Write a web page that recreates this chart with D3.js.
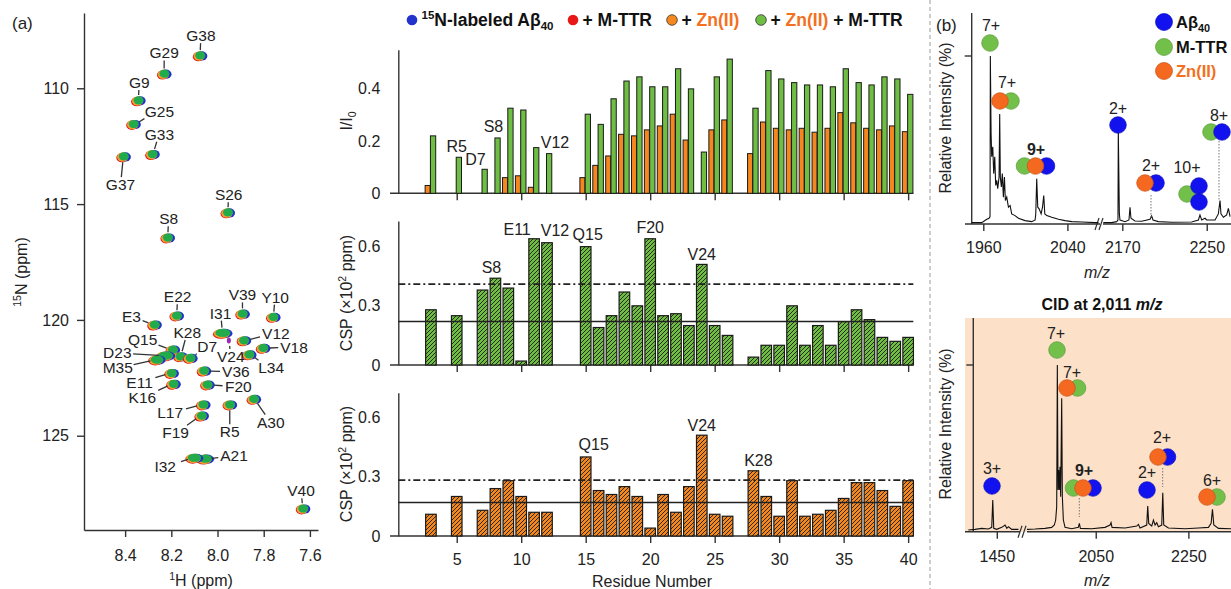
<!DOCTYPE html>
<html>
<head>
<meta charset="utf-8">
<title>Abeta40 NMR and MS</title>
<script src="https://cdn.jsdelivr.net/npm/d3@7/dist/d3.min.js"></script>
<style>
  body { margin: 0; background: #fff; }
  svg { display: block; font-family: "Liberation Sans", Arial, sans-serif; }
  .ax path, .ax line { stroke: #333; stroke-width: 1.4; }
  .ax text { fill: #222; font-size: 16px; font-family: "Liberation Sans", Arial, sans-serif; }
</style>
</head>
<body>
<svg id="fig" width="1231" height="589"></svg>
<script>
// ---------- (a) HSQC peak list (1H, 15N in ppm) ----------
var peakNames = ['G38','G29','G9','G25','G33','G37','S26','S8','E22','V39','Y10','E3','I31','V12','V18','Q15','K28','D7',
                 'D23','M35','V24','L34','V36','E11','F20','K16','A30','L17','R5','F19','A21','I32','V40'];
var peakH = [8.076,8.231,8.343,8.364,8.282,8.407,7.956,8.216,8.177,7.892,7.759,8.273,7.978,7.886,7.803,8.194,8.161,8.118,
             8.226,8.263,7.951,7.863,8.059,8.199,8.044,8.191,7.843,8.062,7.947,8.069,8.054,8.101,7.630];
var peakN = [108.59,109.38,110.53,111.55,112.85,112.95,115.37,116.45,119.82,119.74,119.88,120.21,120.57,120.89,121.22,121.29,121.58,121.65,
             121.55,121.72,120.89,121.50,122.20,122.30,122.80,122.77,123.42,123.66,123.66,124.14,126.00,125.96,128.15];

// ---------- (a) per residue values, residues 1..40 (null = no data) ----------
var residues = d3.range(1, 41);
var ratioZn = [null,null,0.03,null,null,null,null,null,0.06,0.067, 0.023,null,null,null,0.06,0.107,0.143,0.226,0.22,0.243,
               0.258,0.303,0.204,null,0.243,0.281,null,0.152,0.273,0.249, 0.243,0.249,0.234,0.249,0.309,0.27,0.249,0.243,0.258,0.236];
var ratioZnTtr = [null,null,0.22,null,0.138,null,0.092,0.212,0.326,0.319, 0.175,0.152,null,null,0.303,0.264,0.362,0.43,0.446,0.408,
                  0.408,0.477,0.40,0.158,0.446,0.514,null,0.326,0.47,0.438, 0.424,0.415,0.415,0.408,0.477,0.424,0.415,0.446,0.438,0.379];
var cspTtr = [null,null,0.28,null,0.25,null,0.38,0.44,0.39,0.02, 0.64,0.62,null,null,0.60,0.19,0.25,0.37,0.30,0.64,
              0.25,0.26,0.20,0.51,0.20,0.15,null,0.04,0.10,0.10, 0.30,0.10,0.20,0.10,0.22,0.28,0.23,0.14,0.12,0.14];
var cspZn = [null,null,0.11,null,0.20,null,0.13,0.24,0.28,0.20, 0.12,0.12,null,null,0.40,0.23,0.21,0.25,0.20,0.04,
             0.21,0.12,0.25,0.51,0.11,0.10,null,0.33,0.20,0.10, 0.28,0.10,0.11,0.13,0.19,0.27,0.27,0.23,0.15,0.28];
var cspTtrRef = [0.22, 0.41];   // average, average + SD
var cspZnRef = [0.17, 0.283];

// ---------- (b) mass spectra, [m/z, relative intensity %] ----------
var msTopLow = [[1949,0.8],[1958.5,0.8],[1963.3,2.8],[1965.5,3.4],[1966.4,4.4],[1966.7,100],[1967.4,54],[1968,40],[1969,46],
  [1969.9,30],[1970.9,40],[1971.8,23],[1972.8,26],[1973.7,21],[1975,28],[1975.6,65.5],[1976.2,28],[1977.2,22],[1978.1,30],
  [1979.1,16],[1980.1,28],[1981,14],[1982.3,16],[1983.9,10],[1985.5,11],[1987,6],[1990.2,5],[1993.4,3.4],[1999.7,2],
  [2006.1,1.4],[2009.3,2.4],[2009.9,6],[2010.8,27],[2011.8,10],[2013.1,9],[2015,6],[2016.3,10],[2017.5,17],[2018.5,6],
  [2020.4,5],[2025.1,4],[2031.5,2.8],[2037.8,2],[2044.2,1.4],[2053.7,1.2],[2066.4,0.8],[2069.5,0.8]];
var msTopHigh = [[2152,0.8],[2159.9,0.8],[2164.7,1.4],[2165.9,2.4],[2166.2,56],[2167.2,6],[2167.8,2.4],[2172.6,1.4],
  [2176.3,2.4],[2177.3,10],[2178.2,3.4],[2182,1.8],[2188.4,1.6],[2196.3,2.8],[2197.8,4.8],[2199.1,2.4],[2204.1,1.4],
  [2216.8,1],[2235.7,1.2],[2242.1,2.4],[2243.6,5.4],[2245.2,2.4],[2248.4,3.4],[2249.9,2.4],[2257.9,2.4],[2261,6],
  [2262.6,14],[2263.5,6],[2265.8,4],[2268.9,5.4],[2270.5,9.3],[2272.1,4.4]];
var msCidLow = [[1388.7,1],[1403.1,1.4],[1417.5,2],[1431.9,1.6],[1439.1,2.6],[1441.3,19],[1443.4,2],[1449.9,1.4],
  [1460.7,2.6],[1467.9,4],[1471.5,2],[1475.1,3],[1482.3,1.4],[1496.7,1.4]];
var msCidHigh = [[1901.6,1.4],[1918.9,1.6],[1940.5,2],[1954.9,2.6],[1960.6,4],[1963.5,7],[1965.7,15],[1967.1,100],
  [1968.6,25],[1970,37],[1971.4,25],[1972.9,39],[1974.3,21],[1976.5,80],[1977.9,21],[1980.1,7],[1983.7,2.6],[1998.1,1.8],
  [2012.5,2.6],[2014.6,5],[2016.8,2],[2041.3,1.8],[2070.1,2.6],[2080.9,4],[2083,5.4],[2085.2,2.6],[2113.3,2.2],
  [2138.5,3.4],[2142.1,4.4],[2145.7,2.2],[2160.1,4],[2162.2,15.4],[2164.4,5],[2170.9,3.4],[2174.5,7],[2178.1,4],
  [2181.7,5.4],[2185.3,3],[2192.5,4],[2194.7,23.4],[2196.8,4],[2206.9,2.2],[2242.9,1.8],[2271.7,2.2],[2293.3,2.6],
  [2299.1,5],[2302,13.4],[2304.9,4],[2315,2],[2342.4,1.8]];

// ---------- colours ----------
var C = {
  nmrBlue: '#2233cc', nmrRed: '#e3161b', nmrOrange: '#f0a030', nmrGreen: '#22ab4b',
  barGreen: '#6fbe44', barOrange: '#f6871f', zn: '#f37021',
  sBlue: '#1212ee', sGreen: '#72c04a', sOrange: '#f4681f', peach: '#fce0c8'
};

var svg = d3.select('#fig');
var defs = svg.append('defs');

function rich(t, parts, fs) {
  var shift = 0;
  parts.forEach(function(p) {
    var s = t.append('tspan').text(p[0]);
    var target = p[1] === 'sup' ? -0.4 * fs : p[1] === 'sub' ? 0.25 * fs : 0;
    if (target !== shift) { s.attr('dy', target - shift); shift = target; }
    if (p[1]) s.attr('font-size', 0.66 * fs);
    if (p[2]) s.attr('fill', p[2]);
  });
  return t;
}

// ================= (a) HSQC overlay =================
var nx = d3.scaleLinear().domain([8.578, 7.565]).range([84, 318]);
var ny = d3.scaleLinear().domain([106.75, 129.07]).range([13, 530]);

svg.append('g').attr('class', 'ax').attr('transform', 'translate(84,0)')
  .call(d3.axisLeft(ny).tickValues([110, 115, 120, 125]).tickSize(7).tickPadding(8).tickSizeOuter(0));
svg.append('g').attr('class', 'ax').attr('transform', 'translate(0,530)')
  .call(d3.axisBottom(nx).tickValues([8.4, 8.2, 8.0, 7.8, 7.6]).tickFormat(d3.format('.1f'))
    .tickSize(7).tickPadding(13).tickSizeOuter(0));

svg.append('text').attr('x', 12).attr('y', 29).attr('font-size', 17).attr('fill', '#222').text('(a)');
rich(svg.append('text').attr('x', 201).attr('y', 586).attr('text-anchor', 'middle').attr('font-size', 16).attr('fill', '#222'),
  [['1', 'sup'], ['H (ppm)']], 16);
rich(svg.append('text').attr('transform', 'translate(27,272) rotate(-90)').attr('text-anchor', 'middle')
  .attr('font-size', 16).attr('fill', '#222'), [['15', 'sup'], ['N (ppm)']], 16);

// label offsets (px) from each peak and peak sizes
var peakLabelOff = {
  G38:[1,-20], G29:[0,-21], G9:[1,-18], G25:[26,-13], G33:[7,-20], G37:[-3,28], S26:[1,-18], S8:[1,-19],
  E22:[1,-19], V39:[0,-19], Y10:[2,-20], E3:[-23,-8], I31:[-2,-20], V12:[32,-7], V18:[31,-1], Q15:[-30,-10],
  K28:[7,-24], D7:[17,-12], D23:[-48,-3], M35:[-39,8], V24:[2,16], L34:[22,13], V36:[32,1], E11:[-32,9],
  F20:[31,2], K16:[-31,13], A30:[17,23], L17:[-33,8], R5:[0,27], F19:[-26,17], A21:[29,-3], I32:[-29,8], V40:[-2,-18]
};
var peakSize = { I31: 1.45, D23: 1.45, M35: 1.25, A21: 1.3, I32: 1.3, V24: 0.35 };

var gPeaks = svg.append('g');
peakNames.forEach(function(name, i) {
  var px = nx(peakH[i]), py = ny(peakN[i]);
  var k = peakSize[name] || 1;
  var rx = 5.6 * k, ry = 4.6;
  var g = gPeaks.append('g').attr('transform', 'translate(' + px + ',' + py + ')');
  if (name === 'V24') {
    g.append('ellipse').attr('rx', 2).attr('ry', 3).attr('fill', '#9a2ab0');
    return;
  }
  g.append('ellipse').attr('cx', 1.8).attr('cy', 0.3).attr('rx', rx).attr('ry', ry).attr('fill', C.nmrBlue);
  g.append('ellipse').attr('cx', -1.6).attr('cy', 1.1).attr('rx', rx).attr('ry', ry).attr('fill', C.nmrRed);
  g.append('ellipse').attr('cx', -0.8).attr('cy', 0.5).attr('rx', rx).attr('ry', ry).attr('fill', C.nmrOrange);
  g.append('ellipse').attr('cx', 0.3).attr('cy', -0.2).attr('rx', rx - 0.6).attr('ry', ry - 0.5).attr('fill', C.nmrGreen);
});

var gLab = svg.append('g');
peakNames.forEach(function(name, i) {
  var px = nx(peakH[i]), py = ny(peakN[i]);
  var o = peakLabelOff[name];
  var lx = px + o[0], ly = py + o[1];
  gLab.append('text').attr('x', lx).attr('y', ly).attr('dy', '0.36em').attr('text-anchor', 'middle')
    .attr('font-size', 15.5).attr('fill', '#222').text(name);
  var hw = name.length * 4.6 + 2, hh = 7.5;
  var dx = px - lx, dy = py - ly, d = Math.hypot(dx, dy);
  var s = Math.min(dx ? hw / Math.abs(dx) : 1e9, dy ? hh / Math.abs(dy) : 1e9);
  var x1 = lx + dx * s, y1 = ly + dy * s;
  var x2 = px - dx / d * 6.5, y2 = py - dy / d * 5.5;
  if ((x2 - x1) * dx + (y2 - y1) * dy > 1) {
    gLab.append('line').attr('x1', x1).attr('y1', y1).attr('x2', x2).attr('y2', y2)
      .attr('stroke', '#333').attr('stroke-width', 1.3);
  }
});

// ================= (a) bar charts =================
var bx = d3.scaleLinear().domain([0.47, 40.4]).range([398.3, 913.3]);
var yTop = d3.scaleLinear().domain([0, 0.55]).range([193.3, 49.7]);
var yMid = d3.scaleLinear().domain([0, 0.73]).range([365, 221]);
var yBot = d3.scaleLinear().domain([0, 0.725]).range([536, 392.7]);

function hatch(id, color) {
  var p = defs.append('pattern').attr('id', id).attr('patternUnits', 'userSpaceOnUse')
    .attr('width', 4).attr('height', 4);
  p.append('rect').attr('width', 4).attr('height', 4).attr('fill', color);
  p.append('path').attr('d', 'M-1,1 L1,-1 M0,4 L4,0 M3,5 L5,3').attr('stroke', '#2b2b1b').attr('stroke-width', 1);
}
hatch('hG', C.barGreen);
hatch('hO', C.barOrange);

function frame(y, ticks, showLabels) {
  var g = svg.append('g');
  g.append('g').attr('class', 'ax').attr('transform', 'translate(398.3,0)')
    .call(d3.axisLeft(y).tickValues(ticks).tickSize(0).tickPadding(18).tickSizeOuter(0)
      .tickFormat(function(d) { return d === 0 ? '0' : d3.format('.1f')(d); }));
  var xa = g.append('g').attr('class', 'ax').attr('transform', 'translate(0,' + y(0) + ')')
    .call(d3.axisBottom(bx).tickValues([5, 10, 15, 20, 25, 30, 35, 40]).tickSize(7).tickPadding(11).tickSizeOuter(0));
  xa.select('.domain').remove();
  if (!showLabels) xa.selectAll('text').remove();
  g.append('line').attr('x1', 390).attr('x2', 913.3).attr('y1', y(0)).attr('y2', y(0))
    .attr('stroke', '#333').attr('stroke-width', 1.4);
  return g;
}

// top: I/I0
frame(yTop, [0, 0.2, 0.4], false);
var gTop = svg.append('g');
gTop.selectAll('rect.o').data(residues.filter(function(r) { return ratioZn[r - 1] != null; }))
  .enter().append('rect')
  .attr('x', function(r) { return bx(r - 0.45); })
  .attr('width', function(r) { return bx(r - 0.06) - bx(r - 0.45); })
  .attr('y', function(r) { return yTop(ratioZn[r - 1]); })
  .attr('height', function(r) { return yTop(0) - yTop(ratioZn[r - 1]); })
  .attr('fill', C.barOrange).attr('stroke', '#1a1a1a').attr('stroke-width', 1);
gTop.selectAll('rect.g').data(residues.filter(function(r) { return ratioZnTtr[r - 1] != null; }))
  .enter().append('rect')
  .attr('x', function(r) { return bx(r - 0.04); })
  .attr('width', function(r) { return bx(r + 0.37) - bx(r - 0.04); })
  .attr('y', function(r) { return yTop(ratioZnTtr[r - 1]); })
  .attr('height', function(r) { return yTop(0) - yTop(ratioZnTtr[r - 1]); })
  .attr('fill', C.barGreen).attr('stroke', '#1a1a1a').attr('stroke-width', 1);

rich(svg.append('text').attr('transform', 'translate(352,121) rotate(-90)').attr('text-anchor', 'middle')
  .attr('font-size', 16).attr('fill', '#222'), [['I/I'], ['0', 'sub']], 16);

function cspPanel(y, vals, pat, ref, showLabels, cy) {
  frame(y, [0, 0.3, 0.6], showLabels);
  var g = svg.append('g');
  g.selectAll('rect').data(residues.filter(function(r) { return vals[r - 1] != null; }))
    .enter().append('rect')
    .attr('x', function(r) { return bx(r - 0.41); })
    .attr('width', function(r) { return bx(r + 0.41) - bx(r - 0.41); })
    .attr('y', function(r) { return y(vals[r - 1]); })
    .attr('height', function(r) { return y(0) - y(vals[r - 1]); })
    .attr('fill', 'url(#' + pat + ')').attr('stroke', '#1a1a1a').attr('stroke-width', 1.2);
  g.append('line').attr('x1', 398.3).attr('x2', 913.3).attr('y1', y(ref[0])).attr('y2', y(ref[0]))
    .attr('stroke', '#222').attr('stroke-width', 1.5);
  g.append('line').attr('x1', 398.3).attr('x2', 913.3).attr('y1', y(ref[1])).attr('y2', y(ref[1]))
    .attr('stroke', '#222').attr('stroke-width', 1.8).attr('stroke-dasharray', '7,3,2,3');
  rich(svg.append('text').attr('transform', 'translate(352,' + cy + ') rotate(-90)').attr('text-anchor', 'middle')
    .attr('font-size', 16).attr('fill', '#222'), [['CSP (\u00d710'], ['2', 'sup'], [' ppm)']], 16);
}
cspPanel(yMid, cspTtr, 'hG', cspTtrRef, false, 293);
cspPanel(yBot, cspZn, 'hO', cspZnRef, true, 464);

svg.append('text').attr('x', 652).attr('y', 587).attr('text-anchor', 'middle').attr('font-size', 16)
  .attr('fill', '#222').text('Residue Number');

// residue labels: [name, residue, dx, gap above bar]
var topNotes = [['R5', 5, 0, 11], ['D7', 7, -7, 10], ['S8', 8, -2, 12], ['V12', 12, 8, 11]];
var midNotes = [['S8', 8, -4, 11], ['E11', 11, -17, 10], ['V12', 12, 8, 12], ['Q15', 15, 2, 12], ['F20', 20, 0, 12], ['V24', 24, 0, 10]];
var botNotes = [['Q15', 15, 8, 13], ['V24', 24, 0, 10], ['K28', 28, 5, 11]];
function notes(list, y, vals) {
  list.forEach(function(n) {
    svg.append('text').attr('x', bx(n[1]) + n[2]).attr('y', y(vals[n[1] - 1]) - n[3]).attr('dy', '0.36em')
      .attr('text-anchor', 'middle').attr('font-size', 16).attr('fill', '#222').text(n[0]);
  });
}
notes(topNotes, yTop, ratioZnTtr);
notes(midNotes, yMid, cspTtr);
notes(botNotes, yBot, cspZn);

// legend for (a)
var legA = [
  { x: 412, fill: C.nmrBlue, edge: false, parts: [['15', 'sup'], ['N-labeled A\u03b2'], ['40', 'sub']] },
  { x: 573, fill: '#e81818', edge: false, parts: [['+ M-TTR']] },
  { x: 672, fill: C.barOrange, edge: true, parts: [['+ '], ['Zn(II)', null, C.zn]] },
  { x: 761, fill: C.barGreen, edge: true, parts: [['+ '], ['Zn(II)', null, C.zn], [' + M-TTR']] }
];
legA.forEach(function(l) {
  svg.append('circle').attr('cx', l.x).attr('cy', 20).attr('r', 5.3)
    .attr('fill', l.fill).attr('stroke', l.edge ? '#333' : 'none').attr('stroke-width', 0.8);
  rich(svg.append('text').attr('x', l.x + 9.5).attr('y', 26).attr('font-size', 17.5).attr('font-weight', 'bold')
    .attr('fill', '#111'), l.parts, 17.5);
});

// separator
svg.append('line').attr('x1', 930).attr('x2', 930).attr('y1', 0).attr('y2', 589)
  .attr('stroke', '#9a9a9a').attr('stroke-width', 1).attr('stroke-dasharray', '4,3');

// ================= (b) mass spectra =================
var topLowX = d3.scaleLinear().domain([1942.6, 2071]).range([965, 1100]);
var topHighX = d3.scaleLinear().domain([2151.7, 2273]).range([1103, 1231]);
var topY = d3.scaleLinear().domain([0, 100]).range([224, 56]);
var cidLowX = d3.scaleLinear().domain([1381.5, 1500]).range([965, 1020]);
var cidHighX = d3.scaleLinear().domain([1901.6, 2342]).range([1027, 1231]);
var cidY = d3.scaleLinear().domain([0, 100]).range([531.7, 365]);

svg.append('rect').attr('x', 965).attr('y', 318).attr('width', 266).attr('height', 213.7).attr('fill', C.peach);

function specAxes(y0, yAxisX, yTopPx, tickY, segs, brk, pad) {
  svg.append('line').attr('x1', yAxisX).attr('x2', yAxisX).attr('y1', yTopPx).attr('y2', y0)
    .attr('stroke', '#333').attr('stroke-width', 1.4);
  svg.append('line').attr('x1', yAxisX - 7).attr('x2', yAxisX).attr('y1', tickY).attr('y2', tickY)
    .attr('stroke', '#333').attr('stroke-width', 1.4);
  segs.forEach(function(s) {
    var r = s.scale.range();
    svg.append('line').attr('x1', r[0]).attr('x2', r[1]).attr('y1', y0).attr('y2', y0)
      .attr('stroke', '#333').attr('stroke-width', 1.4);
    var a = svg.append('g').attr('class', 'ax').attr('transform', 'translate(0,' + y0 + ')')
      .call(d3.axisBottom(s.scale).tickValues(s.ticks).tickFormat(d3.format('d')).tickSize(7).tickPadding(pad).tickSizeOuter(0));
    a.select('.domain').remove();
  });
  [0, 4].forEach(function(o) {
    svg.append('line').attr('x1', brk - 4 + o).attr('y1', y0 + 6).attr('x2', brk + o).attr('y2', y0 - 6)
      .attr('stroke', '#333').attr('stroke-width', 1.2);
  });
}
specAxes(224, 971.7, 13, 56, [{ scale: topLowX, ticks: [1960, 2040] }, { scale: topHighX, ticks: [2170, 2250] }], 1099, 11);
specAxes(531.7, 973.3, 318, 365, [{ scale: cidLowX, ticks: [1450] }, { scale: cidHighX, ticks: [2050, 2250] }], 1022, 12);

function spectrum(data, xs, ys) {
  svg.append('path').datum(data)
    .attr('d', d3.line().x(function(d) { return xs(d[0]); }).y(function(d) { return ys(d[1]); }))
    .attr('fill', 'none').attr('stroke', '#111').attr('stroke-width', 1.1);
}
spectrum(msTopLow, topLowX, topY);
spectrum(msTopHigh, topHighX, topY);
spectrum(msCidLow, cidLowX, cidY);
spectrum(msCidHigh, cidHighX, cidY);

[118, 424].forEach(function(cy) {
  svg.append('text').attr('transform', 'translate(951,' + cy + ') rotate(-90)').attr('text-anchor', 'middle')
    .attr('font-size', 16).attr('fill', '#222').text('Relative Intensity (%)');
});
[[1097, 278], [1097, 586]].forEach(function(p) {
  svg.append('text').attr('x', p[0]).attr('y', p[1]).attr('text-anchor', 'middle').attr('font-size', 16)
    .attr('font-style', 'italic').attr('fill', '#222').text('m/z');
});
var cid = svg.append('text').attr('x', 1102).attr('y', 310).attr('text-anchor', 'middle').attr('font-size', 16)
  .attr('font-weight', 'bold').attr('fill', '#111');
cid.append('tspan').text('CID at 2,011 ');
cid.append('tspan').attr('font-style', 'italic').text('m/z');
svg.append('text').attr('x', 936).attr('y', 31).attr('font-size', 17).attr('fill', '#222').text('(b)');

// ion annotations: charge label + stacked species circles (g = M-TTR, o = Zn(II), b = Abeta40)
var colorOf = { g: C.sGreen, o: C.sOrange, b: C.sBlue };
var zOrder = { g: 0, b: 1, o: 2 };
var topIons = [
  { z: '7+', lx: 991, ly: 25, c: [['g', 990, 43]] },
  { z: '7+', lx: 1007, ly: 82, c: [['o', 1000, 101], ['g', 1011, 101]] },
  { z: '9+', bold: true, lx: 1036, ly: 149, c: [['g', 1024.5, 166], ['o', 1035.5, 166], ['b', 1046.5, 166]] },
  { z: '2+', lx: 1118, ly: 108, c: [['b', 1118, 125]] },
  { z: '2+', lx: 1151, ly: 165, c: [['o', 1145, 183], ['b', 1156, 183]], stem: [1151, 195, 217] },
  { z: '10+', lx: 1187, ly: 167, c: [['g', 1187, 194], ['b', 1199, 186], ['b', 1199, 202]] },
  { z: '8+', lx: 1219, ly: 115, c: [['g', 1211, 132], ['b', 1222, 132]], stem: [1219, 141, 200] }
];
var cidIons = [
  { z: '3+', lx: 992, ly: 468, c: [['b', 992, 486]] },
  { z: '7+', lx: 1056, ly: 333, c: [['g', 1057, 350]] },
  { z: '7+', lx: 1072, ly: 372, c: [['o', 1067, 388], ['g', 1077.5, 388]] },
  { z: '9+', bold: true, lx: 1084, ly: 470, c: [['g', 1073.5, 488], ['o', 1083, 488], ['b', 1093, 488]], stem: [1079.3, 498, 517] },
  { z: '2+', lx: 1147, ly: 472, c: [['b', 1147, 490]] },
  { z: '2+', lx: 1162, ly: 437, c: [['o', 1158, 457], ['b', 1167.5, 457]], stem: [1162.7, 468, 487] },
  { z: '6+', lx: 1212, ly: 480, c: [['o', 1207, 497], ['g', 1217, 497]] }
];
function ions(list) {
  list.forEach(function(a) {
    if (a.stem) {
      svg.append('line').attr('x1', a.stem[0]).attr('x2', a.stem[0]).attr('y1', a.stem[1]).attr('y2', a.stem[2])
        .attr('stroke', '#777').attr('stroke-width', 1).attr('stroke-dasharray', '1.5,1.5');
    }
    svg.append('text').attr('x', a.lx).attr('y', a.ly).attr('dy', '0.36em').attr('text-anchor', 'middle')
      .attr('font-size', 16).attr('font-weight', a.bold ? 'bold' : 'normal').attr('fill', '#222').text(a.z);
    a.c.slice().sort(function(p, q) { return zOrder[p[0]] - zOrder[q[0]]; }).forEach(function(c) {
      svg.append('circle').attr('cx', c[1]).attr('cy', c[2]).attr('r', 8.3)
        .attr('fill', colorOf[c[0]]).attr('stroke', d3.color(colorOf[c[0]]).darker(0.6)).attr('stroke-width', 0.7);
    });
  });
}
ions(topIons);
ions(cidIons);

// legend for (b)
var legB = [
  { k: 'b', y: 22, parts: [['A\u03b2'], ['40', 'sub']], col: '#111' },
  { k: 'g', y: 47, parts: [['M-TTR']], col: '#111' },
  { k: 'o', y: 71, parts: [['Zn(II)']], col: C.zn }
];
legB.forEach(function(l) {
  svg.append('circle').attr('cx', 1164).attr('cy', l.y).attr('r', 8.5)
    .attr('fill', colorOf[l.k]).attr('stroke', d3.color(colorOf[l.k]).darker(0.6)).attr('stroke-width', 0.7);
  rich(svg.append('text').attr('x', 1176).attr('y', l.y + 6).attr('font-size', 16.5).attr('font-weight', 'bold')
    .attr('fill', l.col), l.parts, 16.5);
});
</script>
</body>
</html>
